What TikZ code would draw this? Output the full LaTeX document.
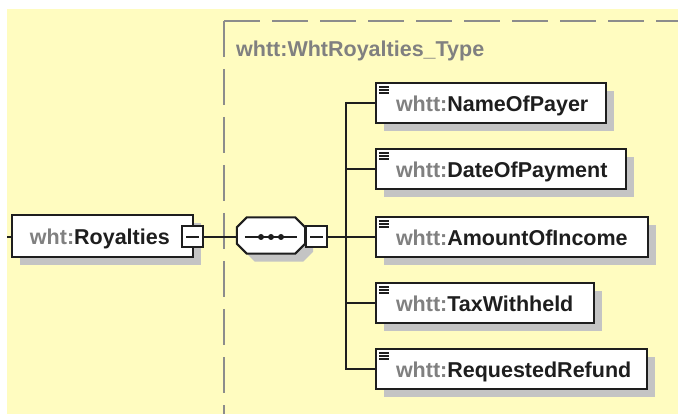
\documentclass[tikz,border=0pt]{standalone}
\usepackage{fontspec}
\setmainfont{Liberation Sans}
\usetikzlibrary{calc,shadows}
\definecolor{bg}{RGB}{255,252,192}
\definecolor{pfx}{RGB}{128,128,128}
\definecolor{shadc}{RGB}{196,196,196}
\definecolor{dashc}{RGB}{140,140,140}
\definecolor{ink}{RGB}{30,30,30}
\begin{document}
\begin{tikzpicture}[x=1pt,y=-1pt,
  font=\fontsize{21.5}{24}\selectfont\bfseries,
  boxshadow/.style={drop shadow={shadow xshift=8pt,shadow yshift=-8pt,fill=shadc,opacity=1}},
  elem/.style={draw=ink, line width=2pt, fill=white, inner xsep=0pt, inner ysep=0pt,
    text width=#1, align=left, text height=20pt, text depth=2.6pt, text=ink, boxshadow},
  kid/.style={elem=#1, minimum height=40pt, anchor=west,
    path picture={\foreach \d in {4,7,10}
      \draw[ink,line width=1.3pt] ([xshift=3pt,yshift=-\d pt]path picture bounding box.north west) -- ++(10pt,0pt);}},
  minus/.style={draw=ink, line width=2pt, fill=white, minimum width=21pt, minimum height=21pt, inner sep=0pt,
    path picture={\draw[ink,line width=1.8pt] ([xshift=4pt]path picture bounding box.west) -- ([xshift=-4pt]path picture bounding box.east);}},
  conn/.style={draw=ink, line width=2pt},
  frame/.style={draw=dashc, line width=2pt, dash pattern=on 36pt off 12pt}
]
\useasboundingbox (0,0) rectangle (678,414);
\fill[white] (0,0) rectangle (678,414);
\fill[bg] (7,9) rectangle (678,414);

% type frame
\draw[frame] (224,21) -- (680,21);
\draw[frame] (224,21) -- (224,416);
\node[anchor=base west, text=pfx, inner sep=0pt] (title) at (236,56.5) {whtt:WhtRoyalties\_Type};

% root element
\node[elem=181pt, minimum height=42pt] (roy) at (102.5,236) {\hspace*{18pt}{\color{pfx}wht:}Royalties};
\node[minus] (m1) at (192.5,237) {};
\coordinate (lft) at (7,237);
\draw[conn] (lft) -- (roy.west |- lft);

% sequence compositor
\node[minimum width=68pt, minimum height=36pt, inner sep=0pt] (seq) at (271,235.5) {};
\fill[shadc] ($(seq.north west)+(18,8)$) -- ($(seq.north east)+(-2,8)$) -- ($(seq.north east)+(8,18)$)
  -- ($(seq.south east)+(8,-2)$) -- ($(seq.south east)+(-2,8)$) -- ($(seq.south west)+(18,8)$)
  -- ($(seq.south west)+(8,-2)$) -- ($(seq.north west)+(8,18)$) -- cycle;
\draw[ink, line width=2pt, fill=white] ($(seq.north west)+(10,0)$) -- ($(seq.north east)+(-10,0)$) -- ($(seq.north east)+(0,10)$)
  -- ($(seq.south east)+(0,-10)$) -- ($(seq.south east)+(-10,0)$) -- ($(seq.south west)+(10,0)$)
  -- ($(seq.south west)+(0,-10)$) -- ($(seq.north west)+(0,10)$) -- cycle;
\draw[ink, line width=1.8pt] ($(seq.west)+(8,1.5)$) -- ($(seq.east)+(-8,1.5)$);
\foreach \dx in {-10,0,10} \fill[ink] ($(seq.center)+(\dx,1.5)$) circle (3pt);
\node[minus] (m2) at (316.5,237) {};
\draw[conn] (m1.east) -- (seq.west |- m1.east);

% children
\node[kid=230pt] (c1) at (375,103) {\hspace*{20pt}{\color{pfx}whtt:}NameOfPayer};
\node[kid=250pt] (c2) at (375,169) {\hspace*{20pt}{\color{pfx}whtt:}DateOfPayment};
\node[kid=272pt] (c3) at (375,237) {\hspace*{20pt}{\color{pfx}whtt:}AmountOfIncome};
\node[kid=218pt] (c4) at (375,303) {\hspace*{20pt}{\color{pfx}whtt:}TaxWithheld};
\node[kid=271pt] (c5) at (375,369) {\hspace*{20pt}{\color{pfx}whtt:}RequestedRefund};

\coordinate (bus) at (346,237);
\draw[conn] (m2.east) -- (bus);
\draw[conn] ([yshift=1pt]bus |- c1.west) -- ([yshift=-1pt]bus |- c5.west);
\foreach \c in {c1,c2,c3,c4,c5} \draw[conn] (bus |- \c.west) -- (\c.west);
\end{tikzpicture}
\end{document}
